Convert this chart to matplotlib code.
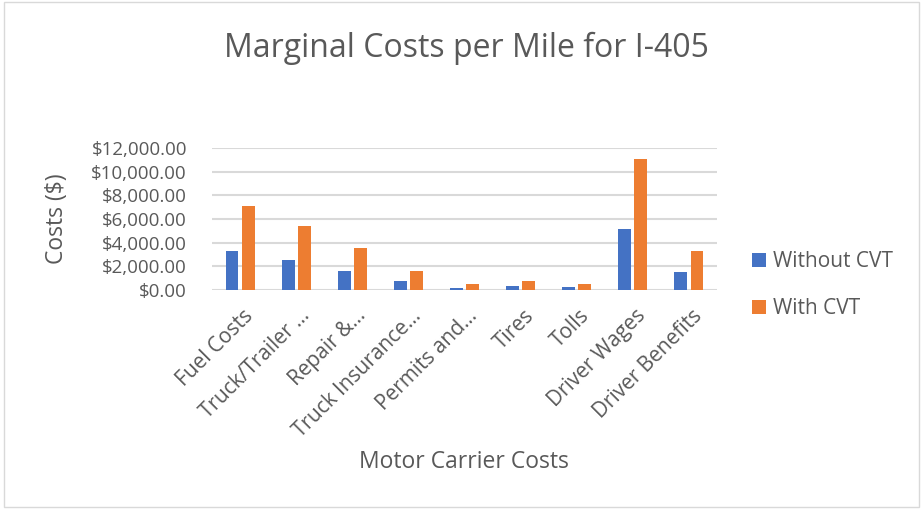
import matplotlib.pyplot as plt
import matplotlib.transforms as mtransforms
import numpy as np
from matplotlib.ticker import FuncFormatter

plt.rcParams['font.family'] = ['Open Sans', 'DejaVu Sans']

categories = ["Fuel Costs", "Truck/Trailer …", "Repair &…", "Truck Insurance…",
              "Permits and…", "Tires", "Tolls", "Driver Wages", "Driver Benefits"]
without_cvt = [3300, 2540, 1610, 760, 170, 340, 250, 5170, 1530]
with_cvt = [7120, 5420, 3560, 1610, 510, 760, 510, 11100, 3300]

grey = "#595959"
fig = plt.figure(figsize=(9.23, 5.09), dpi=100)
ax = fig.add_axes([212 / 923, 1 - 290 / 509, 505 / 923, 142 / 509])

x = np.arange(len(categories))
w = 0.23
ax.bar(x - 0.143, without_cvt, w, color="#4472C4", label="Without CVT", zorder=3)
ax.bar(x + 0.143, with_cvt, w, color="#ED7D31", label="With CVT", zorder=3)

ax.set_xlim(-0.5, len(categories) - 0.5)
ax.set_ylim(0, 12000)
ax.set_yticks(range(0, 12001, 2000))
ax.yaxis.set_major_formatter(FuncFormatter(lambda v, p: "${:,.2f}".format(v)))
ax.grid(axis="y", color="#d9d9d9", linewidth=1.5, zorder=0)
ax.set_axisbelow(True)
for s in ax.spines.values():
    s.set_visible(False)
ax.tick_params(axis="y", length=0, labelsize=13.5, labelcolor=grey, pad=18)
ax.tick_params(axis="x", length=0, labelsize=15, labelcolor=grey, pad=11)
ax.set_xticks(x)
ax.set_xticklabels(categories, rotation=45, ha="right", rotation_mode="anchor")
shift = mtransforms.ScaledTranslation(2 / 72, 0, fig.dpi_scale_trans)
for lbl in ax.get_xticklabels():
    lbl.set_transform(lbl.get_transform() + shift)

fig.text(57 / 923, 1 - 219 / 509, "Costs ($)", rotation=90, fontsize=16.5,
         color=grey, ha="center", va="center")
fig.text(463.5 / 923, 1 - 462 / 509, "Motor Carrier Costs", fontsize=16.5,
         color=grey, ha="center", va="center")
fig.text(466.5 / 923, 1 - 48 / 509, "Marginal Costs per Mile for I-405", fontsize=23,
         color=grey, ha="center", va="center")

fig.legend(loc="center left", bbox_to_anchor=(752 / 923, 1 - 285 / 509), frameon=False,
           fontsize=15, labelcolor=grey, handlelength=0.67, handleheight=0.67,
           handletextpad=0.35, labelspacing=1.25, borderpad=0, borderaxespad=0)

fig.patches.append(plt.Rectangle((0.004, 0.004), 0.992, 0.992, transform=fig.transFigure,
                                 fill=False, edgecolor="#d9d9d9", linewidth=1))

plt.savefig("out.png")
